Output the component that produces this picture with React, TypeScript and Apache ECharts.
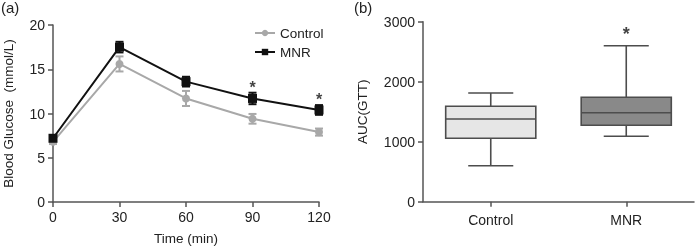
import React, { useEffect, useRef } from "react";
import * as echarts from "echarts";

const timePoints = [0, 30, 60, 90, 120];
const controlMean = [6.8, 15.6, 11.7, 9.4, 7.9];
const controlErr = [0.25, 0.85, 0.85, 0.55, 0.4];
const mnrMean = [7.2, 17.5, 13.6, 11.7, 10.4];
const mnrErr = [0.25, 0.6, 0.55, 0.65, 0.55];
const sigTimes = [90, 120];
const sigHeights = [12.9, 11.6];

const groups = ["Control", "MNR"];
// [low whisker, Q1, median, Q3, high whisker]
const controlBox = [600, 1057, 1378, 1590, 1812];
const mnrBox = [1090, 1273, 1483, 1740, 2600];
const boxFills = ["#e6e6e6", "#898989"];
const boxSigHeight = 2790;

const FONT = "Liberation Sans, Arial, sans-serif";

export default function App() {
  const ref = useRef<HTMLDivElement>(null);
  useEffect(() => {
    if (!ref.current) return;
    const chart = echarts.init(ref.current, undefined, { renderer: "svg" });

    const errItem = (color: string) => (params: any, api: any) => {
      const x = api.value(0);
      const m = api.value(1);
      const e = api.value(2);
      const top = api.coord([x, m + e]);
      const bot = api.coord([x, m - e]);
      const hw = 4;
      const style = { stroke: color, lineWidth: 2 };
      return {
        type: "group",
        children: [
          { type: "line", shape: { x1: top[0], y1: top[1], x2: bot[0], y2: bot[1] }, style },
          { type: "line", shape: { x1: top[0] - hw, y1: top[1], x2: top[0] + hw, y2: top[1] }, style },
          { type: "line", shape: { x1: bot[0] - hw, y1: bot[1], x2: bot[0] + hw, y2: bot[1] }, style },
        ],
      };
    };

    const boxItem = (params: any, api: any) => {
      const idx = api.value(0);
      const lo = api.value(1), q1 = api.value(2), med = api.value(3), q3 = api.value(4), hi = api.value(5);
      const band = api.size([1, 0])[0];
      const bw = band * 0.665;
      const cw = bw * 0.5;
      const cx = api.coord([idx, 0])[0];
      const yLo = api.coord([idx, lo])[1];
      const yQ1 = api.coord([idx, q1])[1];
      const yMed = api.coord([idx, med])[1];
      const yQ3 = api.coord([idx, q3])[1];
      const yHi = api.coord([idx, hi])[1];
      const ls = { stroke: "#4d4d4d", lineWidth: 1.6 };
      return {
        type: "group",
        children: [
          { type: "line", shape: { x1: cx, y1: yHi, x2: cx, y2: yQ3 }, style: ls },
          { type: "line", shape: { x1: cx, y1: yQ1, x2: cx, y2: yLo }, style: ls },
          { type: "line", shape: { x1: cx - cw / 2, y1: yHi, x2: cx + cw / 2, y2: yHi }, style: ls },
          { type: "line", shape: { x1: cx - cw / 2, y1: yLo, x2: cx + cw / 2, y2: yLo }, style: ls },
          {
            type: "rect",
            shape: { x: cx - bw / 2, y: yQ3, width: bw, height: yQ1 - yQ3 },
            style: { fill: boxFills[idx], stroke: "#4d4d4d", lineWidth: 1.6 },
          },
          { type: "line", shape: { x1: cx - bw / 2, y1: yMed, x2: cx + bw / 2, y2: yMed }, style: ls },
        ],
      };
    };

    const axisLine = { show: true, lineStyle: { color: "#555", width: 1.5 } };
    const axisTick = { show: true, length: 5, lineStyle: { color: "#555", width: 1.5 } };
    const axisLabel = { color: "#222", fontSize: 14, fontFamily: FONT };
    const nameStyle = { color: "#222", fontSize: 13.5, fontFamily: FONT };

    const starLabel = (size: number) => ({
      show: true,
      position: "inside",
      formatter: "*",
      fontSize: size,
      fontWeight: "bold",
      color: "#111",
      fontFamily: FONT,
    });

    chart.setOption({
      animation: false,
      textStyle: { fontFamily: FONT },
      graphic: [
        { type: "text", left: 1, top: 0, style: { text: "(a)", fontSize: 15, fontFamily: FONT, fill: "#222" } },
        { type: "text", left: 354, top: 0, style: { text: "(b)", fontSize: 15, fontFamily: FONT, fill: "#222" } },
      ],
      legend: {
        orient: "vertical",
        left: 249,
        top: 21,
        itemWidth: 20,
        itemHeight: 8,
        itemGap: 5,
        textStyle: { fontSize: 13.5, fontFamily: FONT, color: "#222" },
        data: ["Control", "MNR"],
      },
      grid: [
        { left: 53, right: 376, top: 25, bottom: 49 },
        { left: 423, right: 1, top: 21.7, bottom: 49.3 },
      ],
      xAxis: [
        {
          gridIndex: 0,
          type: "value",
          min: 0,
          max: 120,
          interval: 30,
          name: "Time (min)",
          nameLocation: "middle",
          nameGap: 29,
          nameTextStyle: nameStyle,
          axisLine,
          axisTick,
          axisLabel: { ...axisLabel, margin: 8 },
          splitLine: { show: false },
        },
        {
          gridIndex: 1,
          type: "category",
          data: groups,
          axisLine,
          axisTick: { ...axisTick, alignWithLabel: true },
          axisLabel: { ...axisLabel, margin: 11 },
        },
      ],
      yAxis: [
        {
          gridIndex: 0,
          type: "value",
          min: 0,
          max: 20,
          interval: 5,
          name: "Blood Glucose  (mmol/L)",
          nameLocation: "middle",
          nameGap: 38,
          nameTextStyle: nameStyle,
          axisLine,
          axisTick,
          axisLabel: { ...axisLabel, margin: 8 },
          splitLine: { show: false },
        },
        {
          gridIndex: 1,
          type: "value",
          min: 0,
          max: 3000,
          interval: 1000,
          name: "AUC(GTT)",
          nameLocation: "middle",
          nameGap: 54,
          nameTextStyle: nameStyle,
          axisLine,
          axisTick,
          axisLabel: { ...axisLabel, margin: 8, formatter: (v: number) => String(v) },
          splitLine: { show: false },
        },
      ],
      series: [
        {
          name: "Control",
          type: "line",
          xAxisIndex: 0,
          yAxisIndex: 0,
          data: timePoints.map((t, i) => [t, controlMean[i]]),
          symbol: "circle",
          symbolSize: 8,
          color: "#a8a8a8",
          lineStyle: { color: "#a8a8a8", width: 2 },
          itemStyle: { color: "#a8a8a8" },
          z: 2,
        },
        {
          name: "MNR",
          type: "line",
          xAxisIndex: 0,
          yAxisIndex: 0,
          data: timePoints.map((t, i) => [t, mnrMean[i]]),
          symbol: "rect",
          symbolSize: 9,
          color: "#111",
          lineStyle: { color: "#111", width: 2 },
          itemStyle: { color: "#111" },
          z: 3,
        },
        {
          type: "custom",
          xAxisIndex: 0,
          yAxisIndex: 0,
          renderItem: errItem("#a8a8a8"),
          data: timePoints.map((t, i) => [t, controlMean[i], controlErr[i]]),
          z: 2,
        },
        {
          type: "custom",
          xAxisIndex: 0,
          yAxisIndex: 0,
          renderItem: errItem("#111"),
          data: timePoints.map((t, i) => [t, mnrMean[i], mnrErr[i]]),
          z: 3,
        },
        {
          type: "scatter",
          xAxisIndex: 0,
          yAxisIndex: 0,
          symbolSize: 1,
          itemStyle: { color: "rgba(0,0,0,0)" },
          label: starLabel(16),
          data: sigTimes.map((t, i) => [t, sigHeights[i]]),
          z: 5,
        },
        {
          type: "custom",
          xAxisIndex: 1,
          yAxisIndex: 1,
          renderItem: boxItem,
          data: [controlBox, mnrBox].map((b, i) => [i, ...b]),
        },
        {
          type: "scatter",
          xAxisIndex: 1,
          yAxisIndex: 1,
          symbolSize: 1,
          itemStyle: { color: "rgba(0,0,0,0)" },
          label: starLabel(18),
          data: [[1, boxSigHeight]],
          z: 5,
        },
      ],
    });
    return () => chart.dispose();
  }, []);
  return (
    <div
      ref={ref}
      style={{ position: "fixed", left: 0, top: 0, width: 695, height: 251 }}
    />
  );
}
